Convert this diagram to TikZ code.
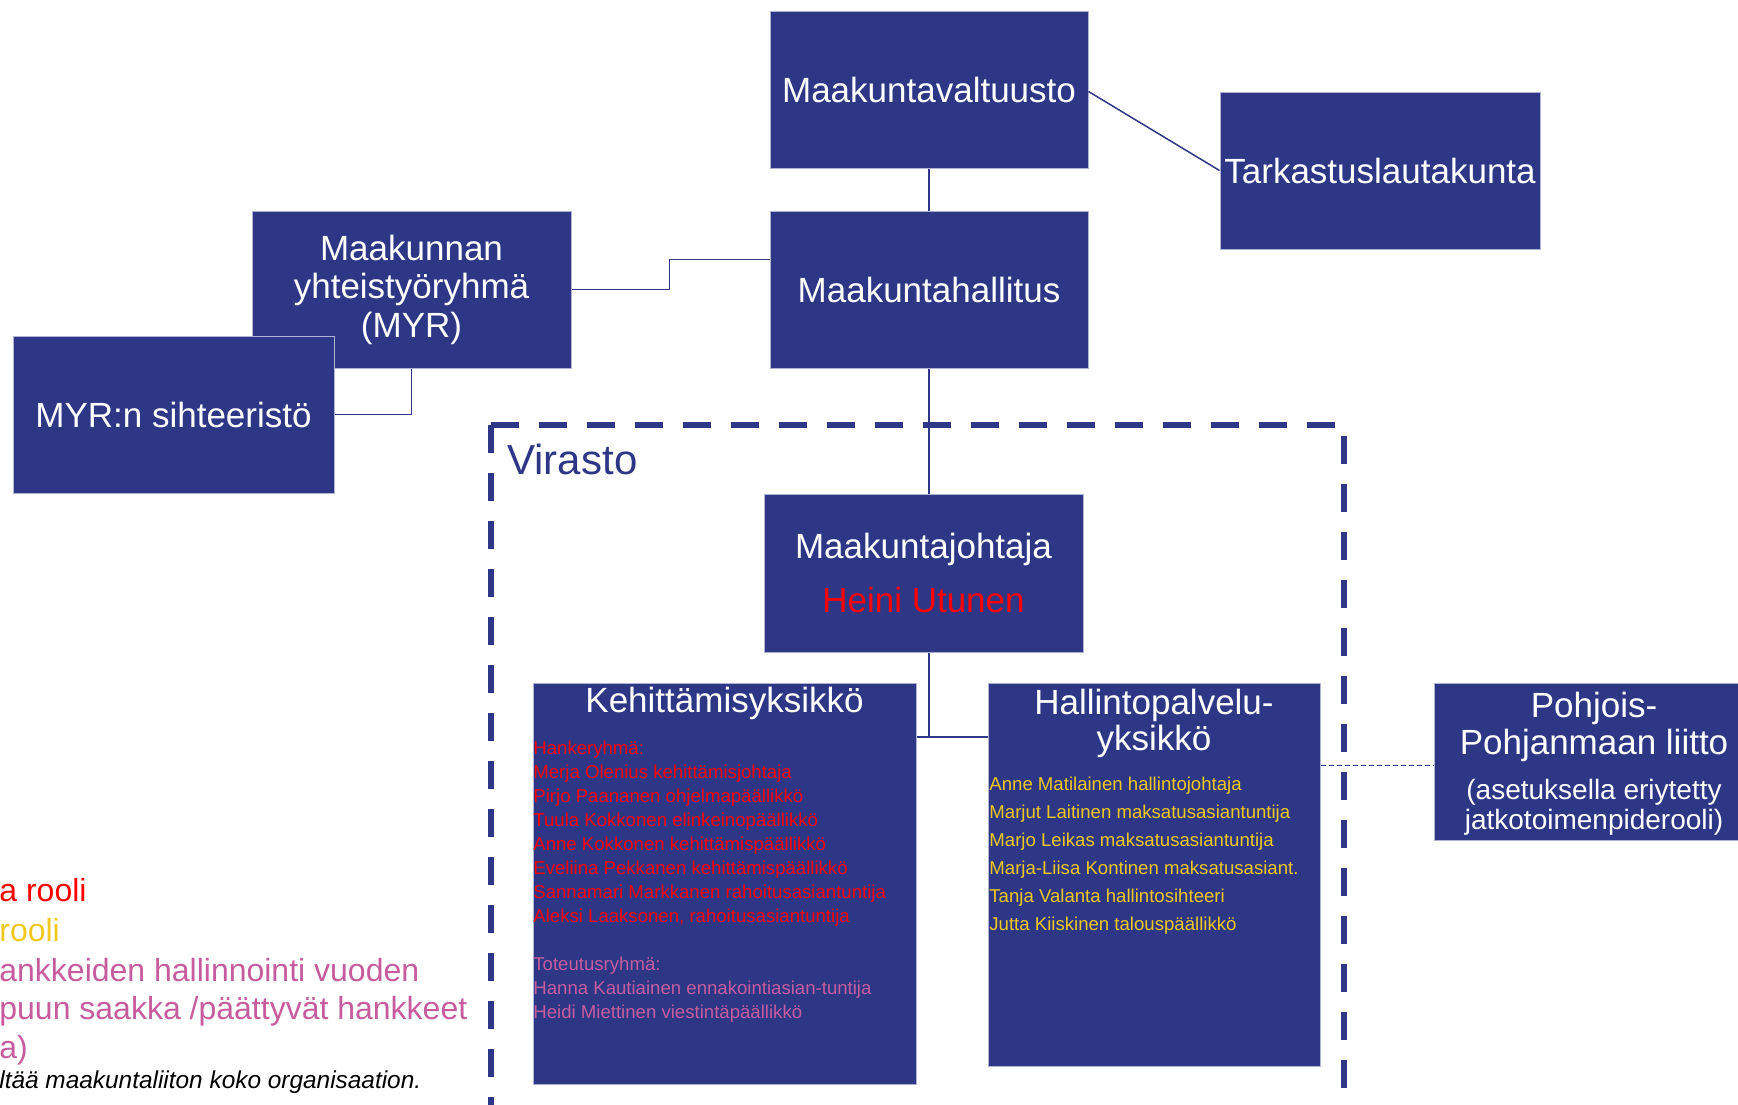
\documentclass[tikz,border=0pt]{standalone}
\usepackage{fontspec}
\setmainfont{Liberation Sans}
\usetikzlibrary{calc}
\definecolor{navy}{RGB}{45,55,134}
\definecolor{edgecol}{RGB}{175,180,215}
\definecolor{rolered}{RGB}{255,0,0}
\definecolor{roleyellow}{RGB}{240,200,30}
\definecolor{rolepink}{RGB}{198,92,158}
\begin{document}
\begin{tikzpicture}[x=0.5pt,y=-0.5pt,
  orgbox/.style={fill=navy,draw=edgecol,line width=0.5pt,text=white,align=center,inner sep=0pt,
    font=\fontsize{17.5}{19.25}\selectfont},
  conn/.style={draw=navy,line width=0.75pt},
  title/.style={text=white,align=center,inner sep=0pt,font=\fontsize{17.5}{18}\selectfont},
  listtxt/.style={anchor=base west,inner sep=0pt,font=\fontsize{9.3}{12}\selectfont},
  legtxt/.style={anchor=west,inner sep=0pt,font=\fontsize{16}{19}\selectfont}]
\useasboundingbox (0,0) rectangle (1738,1104);
\clip (0,0) rectangle (1738,1104);

% Virasto dashed frame
\draw[navy,line width=3pt,dash pattern=on 14pt off 10pt] (491,425) -- (1344,425) -- (1344,1140);
\draw[navy,line width=3pt,dash pattern=on 14pt off 10pt] (491,425) -- (491,1140);
\node[anchor=west,inner sep=0pt,text=navy,font=\fontsize{21}{24}\selectfont] (virasto) at (507,459) {Virasto};

% boxes
\node[orgbox,minimum width=159pt,minimum height=78.5pt] (valt) at (929,89.5) {Maakuntavaltuusto};
\node[orgbox,minimum width=160pt,minimum height=78.5pt] (tark) at (1380,170.5) {Tarkastuslautakunta};
\node[orgbox,minimum width=159pt,minimum height=78.5pt] (hall) at (929,289.5) {Maakuntahallitus};
\node[orgbox,minimum width=159.5pt,minimum height=78.5pt] (myr) at (411.5,289.5) {Maakunnan\\yhteistyöryhmä\\(MYR)};
\node[orgbox,minimum width=160.5pt,minimum height=78.5pt] (siht) at (173.5,414.5) {MYR:n sihteeristö};
\node[orgbox,minimum width=159.5pt,minimum height=79pt,font=\fontsize{17.5}{27}\selectfont] (johtaja) at (923.5,573) {Maakuntajohtaja\\\textcolor{rolered}{Heini Utunen}};
\node[orgbox,minimum width=191.5pt,minimum height=200.5pt] (kehit) at (724.5,883.5) {};
\node[orgbox,minimum width=166pt,minimum height=191.5pt] (hpal) at (1154,874.5) {};
\node[orgbox,minimum width=160pt,minimum height=78.5pt] (pohj) at (1594,761.5) {};

% connectors
\draw[conn] (valt.south) -- (hall.north);
\draw[conn] ($(valt.north east)+(0,81)$) -- (tark.west);
\draw[conn] (myr.east) -- ++(98,0) |- ($(hall.north west)+(0,49)$);
\draw[conn] (myr.south) |- (siht.east);
\draw[conn] (hall.south) -- (hall.south |- johtaja.north);
\coordinate (jn) at (929,737);
\draw[conn] (hall.south |- johtaja.south) -- (jn);
\draw[conn] (kehit.east |- jn) -- (hpal.west |- jn);
\draw[navy,line width=0.5pt,dash pattern=on 2.5pt off 1.5pt] (hpal.east |- 0,765) -- (pohj.west |- 0,765);

% unit titles
\node[title] (kehittitle) at (724.5,703.5) {Kehittämisyksikkö};
\node[title] (hpaltitle) at (1154,723.5) {Hallintopalvelu-\\yksikkö};
\node[title,font=\fontsize{17.5}{18.5}\selectfont] (pohjtitle) at (1594,727) {Pohjois-\\Pohjanmaan liitto};
\node[title,font=\fontsize{14}{15}\selectfont] (pohjsub) at (1594,807.5) {(asetuksella eriytetty\\jatkotoimenpiderooli)};

% Kehittämisyksikkö list
\foreach \t [count=\i from 0] in {Hankeryhmä:,Merja Olenius kehittämisjohtaja,Pirjo Paananen ohjelmapäällikkö,Tuula Kokkonen elinkeinopäällikkö,Anne Kokkonen kehittämispäällikkö,Eveliina Pekkanen kehittämispäällikkö,Sannamari Markkanen rahoitusasiantuntija,{Aleksi Laaksonen, rahoitusasiantuntija}}
  \node[listtxt,text=rolered] (kr\i) at (533,754+24*\i) {\t};
\foreach \t [count=\i from 9] in {Toteutusryhmä:,Hanna Kautiainen ennakointiasian-tuntija,Heidi Miettinen viestintäpäällikkö}
  \node[listtxt,text=rolepink] (kp\i) at (533,754+24*\i) {\t};

% Hallintopalveluyksikkö list
\foreach \t [count=\i from 0] in {Anne Matilainen hallintojohtaja,Marjut Laitinen maksatusasiantuntija,Marjo Leikas maksatusasiantuntija,Marja-Liisa Kontinen maksatusasiant.,Tanja Valanta hallintosihteeri,Jutta Kiiskinen talouspäällikkö}
  \node[listtxt,text=roleyellow] (hy\i) at (989,790+28*\i) {\t};

% legend (cut off at left)
\node[legtxt,text=rolered] (leg1) at (-1,890) {a rooli};
\node[legtxt,text=roleyellow] (leg2) at (-1,930) {rooli};
\node[legtxt,text=rolepink] (leg3) at (-1,970) {ankkeiden hallinnointi vuoden};
\node[legtxt,text=rolepink] (leg4) at (-1,1011) {puun saakka /päättyvät hankkeet};
\node[legtxt,text=rolepink] (leg5) at (-1,1050) {a)};
\node[anchor=west,inner sep=0pt,font=\fontsize{12.2}{14}\selectfont\itshape] (leg6) at (-1,1082) {ltää maakuntaliiton koko organisaation.};
\end{tikzpicture}
\end{document}
